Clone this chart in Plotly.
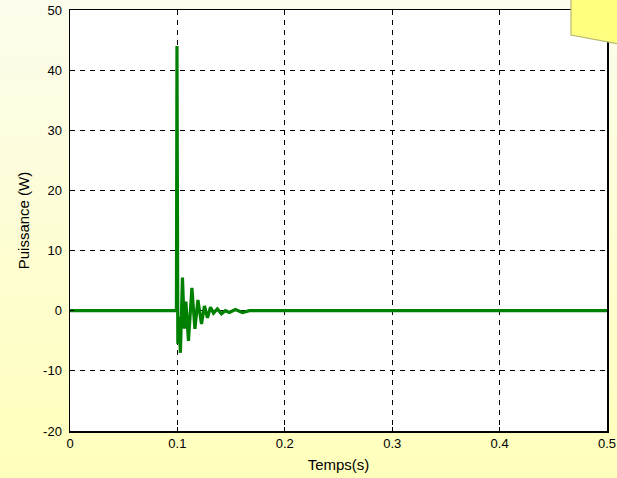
import plotly.graph_objects as go

# Data
temps = [0.0, 0.0991, 0.0996, 0.1000, 0.1004, 0.1014, 0.1028, 0.1047, 0.1065, 0.1079,
         0.1103, 0.1135, 0.1163, 0.1191, 0.1224, 0.1252, 0.1280, 0.1308, 0.1336,
         0.1372, 0.1410, 0.1447, 0.1484, 0.1540, 0.1606, 0.1671, 0.5]
puissance = [0.0, 0.0, 44.0, 16.0, -5.5, -1.0, -7.0, 5.5, -3.0, 1.5,
             -5.0, 3.8, -3.0, 1.8, -2.2, 0.8, -1.2, 0.6, -0.4,
             0.3, -0.5, 0.0, -0.3, 0.2, -0.3, 0.0, 0.0]
x_ticks = [0, 0.1, 0.2, 0.3, 0.4, 0.5]
x_tick_labels = ["0", "0.1", "0.2", "0.3", "0.4", "0.5"]
y_ticks = [-20, -10, 0, 10, 20, 30, 40, 50]
y_tick_labels = ["-20", "-10", "0", "10", "20", "30", "40", "50"]

W, H = 617, 478
L, R, T, B = 70, 10, 10, 47
pw, ph = W - L - R, H - T - B

def px2x(px):
    return (px - L) / pw

def py2y(py):
    return (H - B - py) / ph

fig = go.Figure()
fig.add_trace(go.Scatter(x=temps, y=puissance, mode="lines",
                         line=dict(color="#008000", width=3.2), hoverinfo="skip",
                         showlegend=False))

shapes = []
# background vertical gradient
n = 48
top = (252, 252, 236)
bot = (255, 255, 188)
for i in range(n):
    f = i / (n - 1)
    c = tuple(round(top[k] + (bot[k] - top[k]) * f) for k in range(3))
    y0 = py2y(H * i / n - 1)
    y1 = py2y(H * (i + 1) / n + 1)
    shapes.append(dict(type="rect", xref="paper", yref="paper", layer="below",
                       x0=px2x(-5), x1=px2x(W + 5), y0=y0, y1=y1,
                       line=dict(width=0), fillcolor="rgb(%d,%d,%d)" % c))
# white plot area
shapes.append(dict(type="rect", xref="paper", yref="paper", layer="below",
                   x0=0, x1=1, y0=0, y1=1, line=dict(width=0), fillcolor="white"))
# sticky note at top right
shapes.append(dict(type="path", xref="paper", yref="paper", layer="above",
                   path="M %f,%f L %f,%f L %f,%f L %f,%f Z" % (
                       px2x(571), py2y(-2), px2x(W + 2), py2y(-2),
                       px2x(W + 2), py2y(44), px2x(571), py2y(35)),
                   fillcolor="#FFFF80", line=dict(color="#B8B870", width=1.2)))

fig.update_layout(
    width=W, height=H,
    margin=dict(l=L, r=R, t=T, b=B, pad=0, autoexpand=False),
    paper_bgcolor="#FEFED8",
    plot_bgcolor="white",
    shapes=shapes,
    font=dict(family="Liberation Sans, Arial, sans-serif", size=13, color="black"),
    xaxis=dict(range=[0, 0.5], tickvals=x_ticks, ticktext=x_tick_labels,
               showgrid=True, gridcolor="black", gridwidth=1, griddash="5px,5px",
               zeroline=False, showline=True, linecolor="black", linewidth=1.5,
               mirror=True, ticks="inside", ticklen=4, tickcolor="black",
               automargin=False,
               title=dict(text="Temps(s)", font=dict(size=15), standoff=9),
               tickfont=dict(size=13)),
    yaxis=dict(range=[-20, 50], tickvals=y_ticks, ticktext=y_tick_labels,
               showgrid=True, gridcolor="black", gridwidth=1, griddash="5px,5px",
               zeroline=False, showline=True, linecolor="black", linewidth=1.5,
               mirror=True, ticks="inside", ticklen=4, tickcolor="black",
               automargin=False, ticklabelstandoff=4,
               title=dict(text="Puissance (W)", font=dict(size=15), standoff=10),
               tickfont=dict(size=13)),
)

fig.write_html("out.html", config={"displayModeBar": False, "staticPlot": True},
               post_script="document.body.style.margin='0';document.body.style.overflow='hidden';")
